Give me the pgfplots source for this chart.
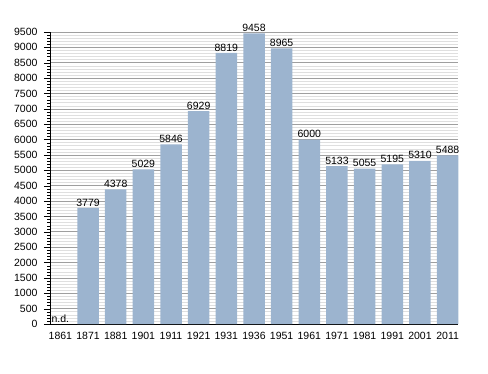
\documentclass[border=0pt]{standalone}
\usepackage{fontspec}
\setmainfont{Liberation Sans}
\usepackage{pgfplots}
\pgfplotsset{compat=1.18}
\definecolor{barblue}{RGB}{156,180,207}
\begin{document}
\begin{tikzpicture}[x=1pt,y=1pt]
\path[use as bounding box] (0,0) rectangle (488,373);
\begin{axis}[
  at={(50pt,49pt)}, anchor=south west,
  scale only axis, width=408pt, height=292pt,
  xmin=-0.375, xmax=14.375, ymin=0, ymax=9500,
  axis x line*=bottom, axis y line*=left,
  axis line style={black},
  clip=false,
  /pgf/number format/assume math mode=true,
  /pgf/number format/1000 sep={},
  ticklabel style={font=\fontsize{10.5}{12}\selectfont},
  xtick={0,...,14},
  xticklabels={1861,1871,1881,1901,1911,1921,1931,1936,1951,1961,1971,1981,1991,2001,2011},
  x tick style={draw=none},
  xticklabel style={yshift=1pt},
  yticklabel style={xshift=-3pt},
  ytick distance=500,
  minor y tick num=4,
  ymajorgrids, yminorgrids,
  major grid style={gray!75, line width=0.6pt},
  minor grid style={gray!25, line width=0.5pt},
  y tick style={black},
  tick align=outside,
  major tick length=6pt,
  minor tick length=3pt,
]
\addplot[ybar, bar width=21.5pt, fill=barblue, draw=none,
  nodes near coords,
  every node near coord/.append style={font=\fontsize{10.5}{12}\selectfont, black, inner sep=1.5pt}]
  coordinates {
  (1,3779) (2,4378) (3,5029) (4,5846) (5,6929) (6,8819) (7,9458)
  (8,8965) (9,6000) (10,5133) (11,5055) (12,5195) (13,5310) (14,5488)
  };
\node[anchor=south, font=\fontsize{10.5}{12}\selectfont, inner sep=1.5pt] at (axis cs:0,0) {n.d.};
\end{axis}
\end{tikzpicture}
\end{document}
